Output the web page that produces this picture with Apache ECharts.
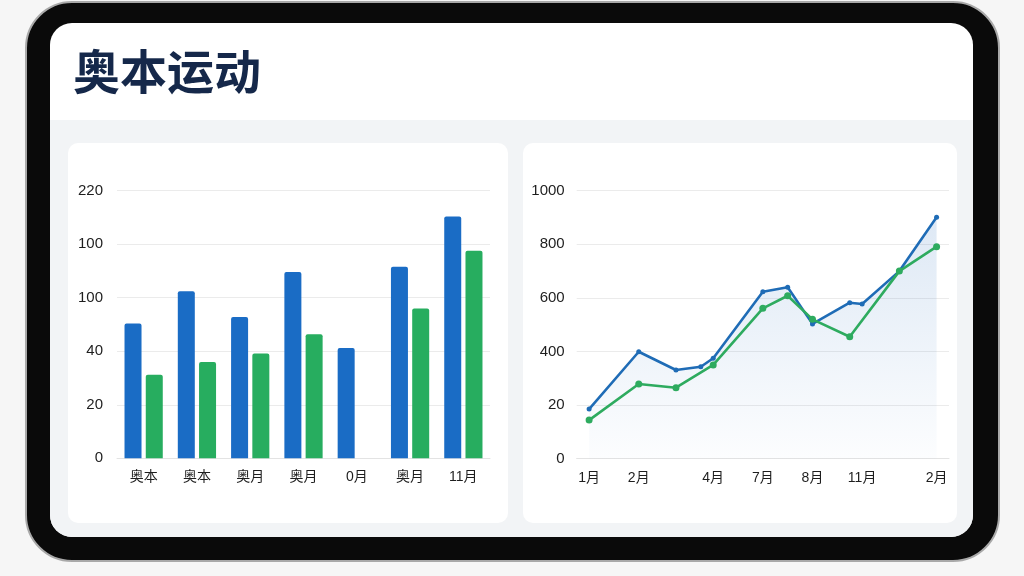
<!DOCTYPE html>
<html>
<head>
<meta charset="utf-8">
<script src="https://cdn.jsdelivr.net/npm/echarts@6/dist/echarts.min.js"></script>
<style>
html,body{margin:0;padding:0;background:#f6f6f6;}
#c{width:1024px;height:576px;}
</style>
</head>
<body>
<div id="c"></div>
<script>
// ---- data ----
var titleText = '奥本运动';
var barCategories = ['奥本', '奥本', '奥月', '奥月', '0月', '奥月', '11月'];
var barBlue = [126, 156, 132, 174, 103, 179, 226];
var barGreen = [78, 90, 98, 116, null, 140, 194];
var barTickLabels = ['0', '20', '40', '100', '100', '220'];     // at 0,50,100,150,200,250

var lineTickLabels = ['0', '20', '400', '600', '800', '1000']; // at 0,200,...,1000
var lineXTickPos = [1, 5, 11, 15, 19, 23, 29];
var lineXTickLabels = ['1月', '2月', '4月', '7月', '8月', '11月', '2月'];
var lineBlue = [[1,185],[5,399],[8,331],[10,343],[11,375],[15,623],[17,640],[19,503],[22,582],[23,577],[26,700],[29,901]];
var lineGreen = [[1,144],[5,279],[8,265],[11,350],[15,561],[17,608],[19,520],[22,455],[26,700],[29,791]];

// ---- chart ----
var FONT = "'Liberation Sans','Noto Sans CJK SC',sans-serif";
var BLUE = '#1a6cc5', GREEN = '#27ad5f';
var LBLUE = '#1f6cb6', LGREEN = '#2eab5f';
var chart = echarts.init(document.getElementById('c'));

function yLab(labels, step) {
  return function (v) { var i = Math.round(v / step); return labels[i] !== undefined ? labels[i] : ''; };
}

chart.setOption({
  animation: false,
  backgroundColor: '#f6f6f6',
  title: {
    text: titleText, left: 68, top: 43,
    textStyle: { fontFamily: "'Noto Sans CJK SC',sans-serif", fontSize: 47, fontWeight: 'bold', color: '#15284a' }
  },
  graphic: [
    { type: 'rect', z: -10, shape: { x: 26, y: 2, width: 973, height: 559, r: 46 }, style: { fill: '#0a0a0a', stroke: '#a9a9a9', lineWidth: 2 } },
    { type: 'rect', z: -10, shape: { x: 50, y: 23, width: 923, height: 514, r: 22 }, style: { fill: '#ffffff' } },
    { type: 'rect', z: -10, shape: { x: 50, y: 120, width: 923, height: 417, r: [0, 0, 22, 22] }, style: { fill: '#f2f4f6' } },
    { type: 'rect', z: -10, shape: { x: 68, y: 143, width: 440, height: 380, r: 10 }, style: { fill: '#ffffff' } },
    { type: 'rect', z: -10, shape: { x: 523, y: 143, width: 434, height: 380, r: 10 }, style: { fill: '#ffffff' } }
  ],
  grid: [
    { left: 117, right: 1024 - 490, top: 190.7, bottom: 576 - 458.3 },
    { left: 576.7, right: 1024 - 949, top: 190.7, bottom: 576 - 458.7 }
  ],
  xAxis: [
    {
      type: 'category', gridIndex: 0, data: barCategories,
      axisLine: { lineStyle: { color: '#e3e3e3' } }, axisTick: { show: false },
      axisLabel: { color: '#1e1e1e', fontSize: 14, fontFamily: FONT, margin: 12 }
    },
    {
      type: 'value', gridIndex: 1, min: 0, max: 30, interval: 1,
      axisLine: { show: true, lineStyle: { color: '#e3e3e3' } }, axisTick: { show: false }, splitLine: { show: false },
      axisLabel: {
        color: '#1e1e1e', fontSize: 14, fontFamily: FONT, margin: 12, showMinLabel: true, showMaxLabel: true,
        formatter: function (v) { var i = lineXTickPos.indexOf(Math.round(v)); return i >= 0 ? lineXTickLabels[i] : ''; }
      }
    }
  ],
  yAxis: [
    {
      type: 'value', gridIndex: 0, min: 0, max: 250, interval: 50,
      axisLine: { show: false }, axisTick: { show: false },
      splitLine: { lineStyle: { color: '#ebebeb' } },
      axisLabel: { color: '#1e1e1e', fontSize: 15, fontFamily: FONT, margin: 14, formatter: yLab(barTickLabels, 50) }
    },
    {
      type: 'value', gridIndex: 1, min: 0, max: 1000, interval: 200,
      axisLine: { show: false }, axisTick: { show: false },
      splitLine: { lineStyle: { color: '#ebebeb' } },
      axisLabel: { color: '#1e1e1e', fontSize: 15, fontFamily: FONT, margin: 12, formatter: yLab(lineTickLabels, 200) }
    }
  ],
  series: [
    {
      type: 'bar', xAxisIndex: 0, yAxisIndex: 0, data: barBlue, barWidth: 17, barGap: '25%',
      itemStyle: { color: BLUE, borderRadius: [2, 2, 0, 0] }
    },
    {
      type: 'bar', xAxisIndex: 0, yAxisIndex: 0, data: barGreen, barWidth: 17, barGap: '25%',
      itemStyle: { color: GREEN, borderRadius: [2, 2, 0, 0] }
    },
    {
      type: 'line', xAxisIndex: 1, yAxisIndex: 1, data: lineBlue,
      symbol: 'circle', symbolSize: 5, showSymbol: true,
      lineStyle: { color: LBLUE, width: 2.6 }, itemStyle: { color: LBLUE },
      areaStyle: {
        color: new echarts.graphic.LinearGradient(0, 0, 0, 1, [
          { offset: 0, color: 'rgba(40,110,190,0.22)' },
          { offset: 1, color: 'rgba(40,110,190,0.02)' }
        ])
      }
    },
    {
      type: 'line', xAxisIndex: 1, yAxisIndex: 1, data: lineGreen,
      symbol: 'circle', symbolSize: 7, showSymbol: true,
      lineStyle: { color: LGREEN, width: 2.6 }, itemStyle: { color: LGREEN }
    }
  ]
});
</script>
</body>
</html>
